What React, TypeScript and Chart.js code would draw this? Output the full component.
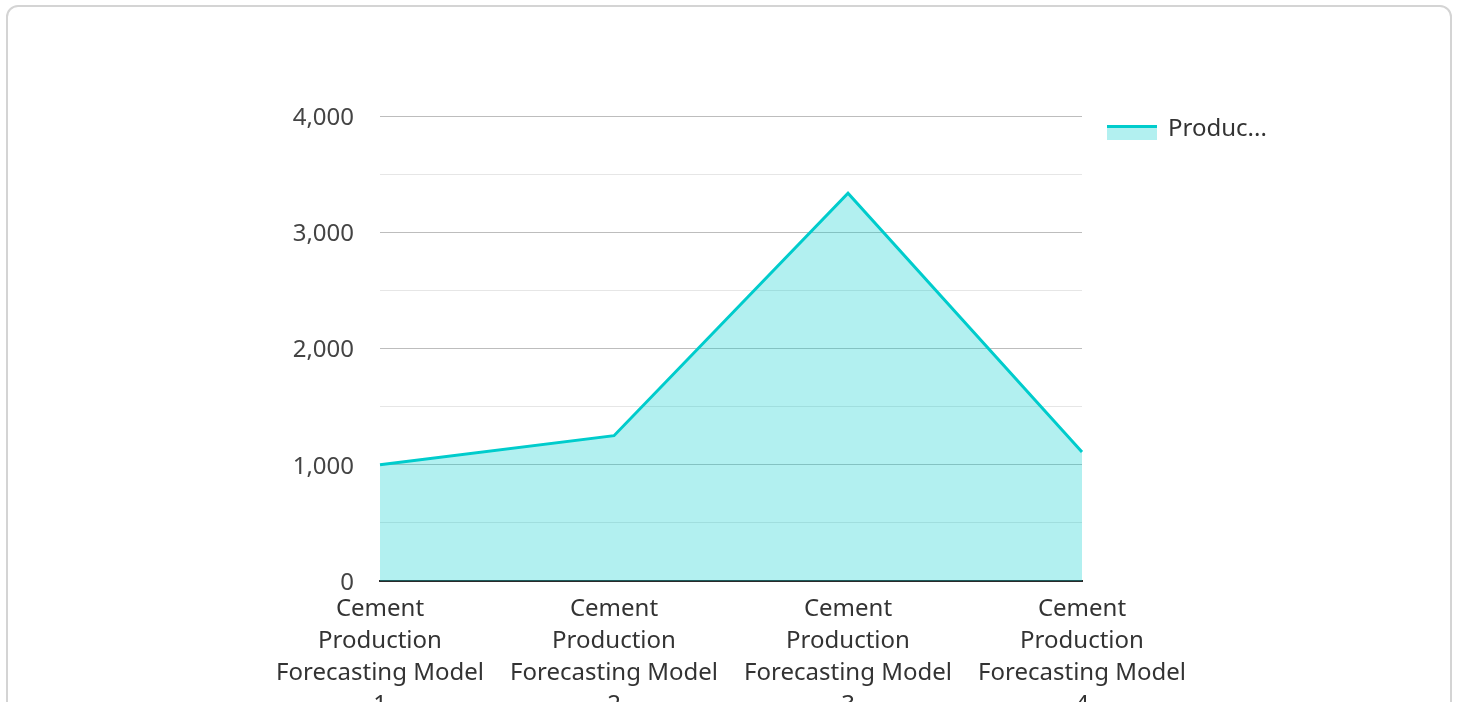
import React, { useEffect, useRef } from "react";
import { Chart, registerables } from "chart.js";

Chart.register(...registerables);

const categories: string[][] = [
  ["Cement", "Production", "Forecasting Model", "1"],
  ["Cement", "Production", "Forecasting Model", "2"],
  ["Cement", "Production", "Forecasting Model", "3"],
  ["Cement", "Production", "Forecasting Model", "4"],
];
const seriesLabel = "Production";
const seriesValues = [1000, 1250, 3335, 1110];
const yTickValues = [0, 1000, 2000, 3000, 4000];

const LINE = "rgb(0,204,204)";
const FILL = "rgba(0,204,204,0.3)";
const FONT = "'Noto Sans', 'Open Sans', sans-serif";
const FS = 24;

const legendPlugin = {
  id: "customLegend",
  afterDraw(chart: any) {
    const ctx = chart.ctx;
    const area = chart.chartArea;
    const x = area.right + 25;
    const y = 125;
    ctx.save();
    ctx.fillStyle = FILL;
    ctx.fillRect(x, y, 50, 15);
    ctx.fillStyle = LINE;
    ctx.fillRect(x, y, 50, 3);
    ctx.font = `${FS}px ${FONT}`;
    ctx.fillStyle = "#333";
    ctx.textBaseline = "middle";
    const label = chart.data.datasets[0].label as string;
    const maxW = 102;
    let text = label;
    if (ctx.measureText(text).width > maxW) {
      let t = label;
      while (t.length > 1 && ctx.measureText(t + "...").width > maxW) t = t.slice(0, -1);
      text = t + "...";
    }
    ctx.fillText(text, x + 61, y + 4);
    ctx.restore();
  },
};

export default function App() {
  const ref = useRef<HTMLCanvasElement | null>(null);
  useEffect(() => {
    if (!ref.current) return;
    const chart = new Chart(ref.current, {
      type: "line",
      data: {
        labels: categories as any,
        datasets: [
          {
            label: seriesLabel,
            data: seriesValues,
            borderColor: LINE,
            backgroundColor: FILL,
            borderWidth: 3,
            fill: "origin",
            pointRadius: 0,
            tension: 0,
          },
        ],
      },
      options: {
        animation: false,
        responsive: false,
        layout: { padding: { left: 270, right: 376, top: 116, bottom: 29 } },
        plugins: { legend: { display: false }, tooltip: { enabled: false } },
        scales: {
          x: {
            offset: false,
            grid: { display: false, drawTicks: false },
            border: { display: true, color: "#2a2a2a", width: 2 },
            ticks: {
              autoSkip: false,
              maxRotation: 0,
              minRotation: 0,
              padding: 12,
              color: "#333",
              font: { family: FONT, size: FS, lineHeight: "32px" as any },
            },
            afterFit: (s: any) => {
              s.height = 150;
            },
          },
          y: {
            min: 0,
            max: 4000,
            afterBuildTicks: (s: any) => {
              const t: any[] = [];
              for (let i = 0; i < yTickValues.length; i++) {
                t.push({ value: yTickValues[i] });
                if (i < yTickValues.length - 1) t.push({ value: (yTickValues[i] + yTickValues[i + 1]) / 2 });
              }
              s.ticks = t;
            },
            grid: {
              drawTicks: false,
              color: (c: any) => (c.tick && c.tick.value % 1000 === 0 ? "#bdbdbd" : "#e6e6e6"),
              lineWidth: 1,
            },
            border: { display: false },
            ticks: {
              padding: 26,
              labelOffset: 2,
              color: "#444",
              font: { family: FONT, size: FS },
              callback: (v: any) => (Number(v) % 1000 === 0 ? Number(v).toLocaleString("en-US") : ""),
            },
            afterFit: (s: any) => {
              s.width = 110;
            },
          },
        },
      },
      plugins: [legendPlugin],
    });
    return () => chart.destroy();
  }, []);

  return (
    <div>
      <div
        style={{
          position: "absolute",
          left: 6,
          top: 5,
          width: 1446,
          height: 780,
          border: "2px solid #d4d4d4",
          borderRadius: 12,
          boxSizing: "border-box",
          background: "#fff",
        }}
      />
      <canvas
        ref={ref}
        width={1458}
        height={760}
        style={{ position: "absolute", left: 0, top: 0, width: 1458, height: 760 }}
      />
    </div>
  );
}
